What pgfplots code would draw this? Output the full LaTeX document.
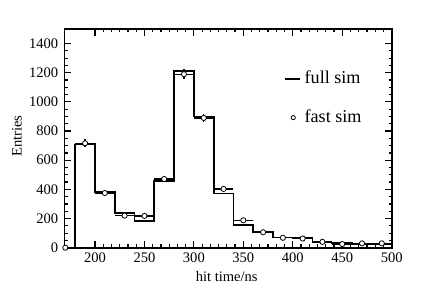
\documentclass[border=0pt]{standalone}
\usepackage{pgfplots}
\pgfplotsset{compat=1.18}
\usepackage{pgfplotstable}
\usepackage{fontspec}
\setmainfont{Liberation Serif}
\newcommand\bigf{\fontsize{14.6}{16}\selectfont}
\newcommand\legf{\fontsize{18.2}{20}\selectfont}
\pgfplotstableread{
x y
180 710
200 384
220 238
240 185
260 455
280 1210
300 900
320 372
340 154
360 110
380 70
400 67
420 36
440 30
460 22
480 25
500 25
}\fullsim
\pgfplotstableread{
x y ex ey
170 0 10 0
190 716 10 26.8
210 375 10 19.4
230 220 10 14.8
250 218 10 14.8
270 471 10 21.7
290 1190 10 34.5
310 890 10 29.8
330 403 10 20.1
350 188 10 13.7
370 106 10 10.3
390 68 10 8.2
410 63 10 7.9
430 40 10 6.3
450 25 10 5.0
470 30 10 5.5
490 30 10 5.5
}\fastsim
\begin{document}
\bigf
\begin{tikzpicture}[font=\bigf]
\useasboundingbox (0,0) rectangle (436bp,292bp);
\begin{axis}[
  at={(64.3bp,44.3bp)}, anchor=south west,
  scale only axis, width=327.4bp, height=218.7bp,
  xmin=169, xmax=500, ymin=0, ymax=1500,
  xtick={200,250,...,500}, minor x tick num=5,
  ytick={0,200,...,1400}, minor y tick num=3,
  tick align=inside, xtick pos=both, ytick pos=both,
  axis line style={line width=1.6bp},
  tick style={line width=1.2bp, black},
  major tick length=6.5bp, minor tick length=3.2bp,
  /pgf/number format/assume math mode=true,
  /pgf/number format/1000 sep={},
  ticklabel style={font=\bigf},
  xticklabel style={yshift=-0.5bp},
  yticklabel style={xshift=-1bp},
  xlabel={hit time/ns}, ylabel={Entries},
  xlabel style={at={(axis description cs:0.496,-0.13)}, anchor=center, font=\bigf},
  ylabel style={at={(axis description cs:-0.145,0.51)}, anchor=center, rotate=0, font=\bigf},
  legend style={draw=none, fill=none, at={(axis description cs:0.67,0.817)}, anchor=north west,
    font=\legf, row sep=20bp, inner sep=0pt, column sep=2bp},
  legend cell align=left,
]
\addplot[const plot, black, line width=1.8bp, forget plot] coordinates {(180,0) (180,710)};
\addplot[const plot, black, line width=1.8bp,
  legend image code/.code={\draw[black, line width=1.8bp] (0bp,0bp) -- (15bp,0bp);}]
  table[x=x, y=y] {\fullsim};
\addlegendentry{full sim}
\addplot[only marks, mark=*, mark size=2.6bp, mark options={fill=white, draw=black, line width=0.8bp},
  legend image code/.code={\draw[black, fill=white, line width=0.8bp] (8.5bp,0bp) circle[radius=2.1bp];},
  error bars/.cd, x dir=both, x explicit, y dir=both, y explicit,
  error mark=none, error bar style={line width=1.2bp, black}]
  table[x=x, y=y, x error=ex, y error=ey] {\fastsim};
\addlegendentry{fast sim}
\end{axis}
\end{tikzpicture}
\end{document}
